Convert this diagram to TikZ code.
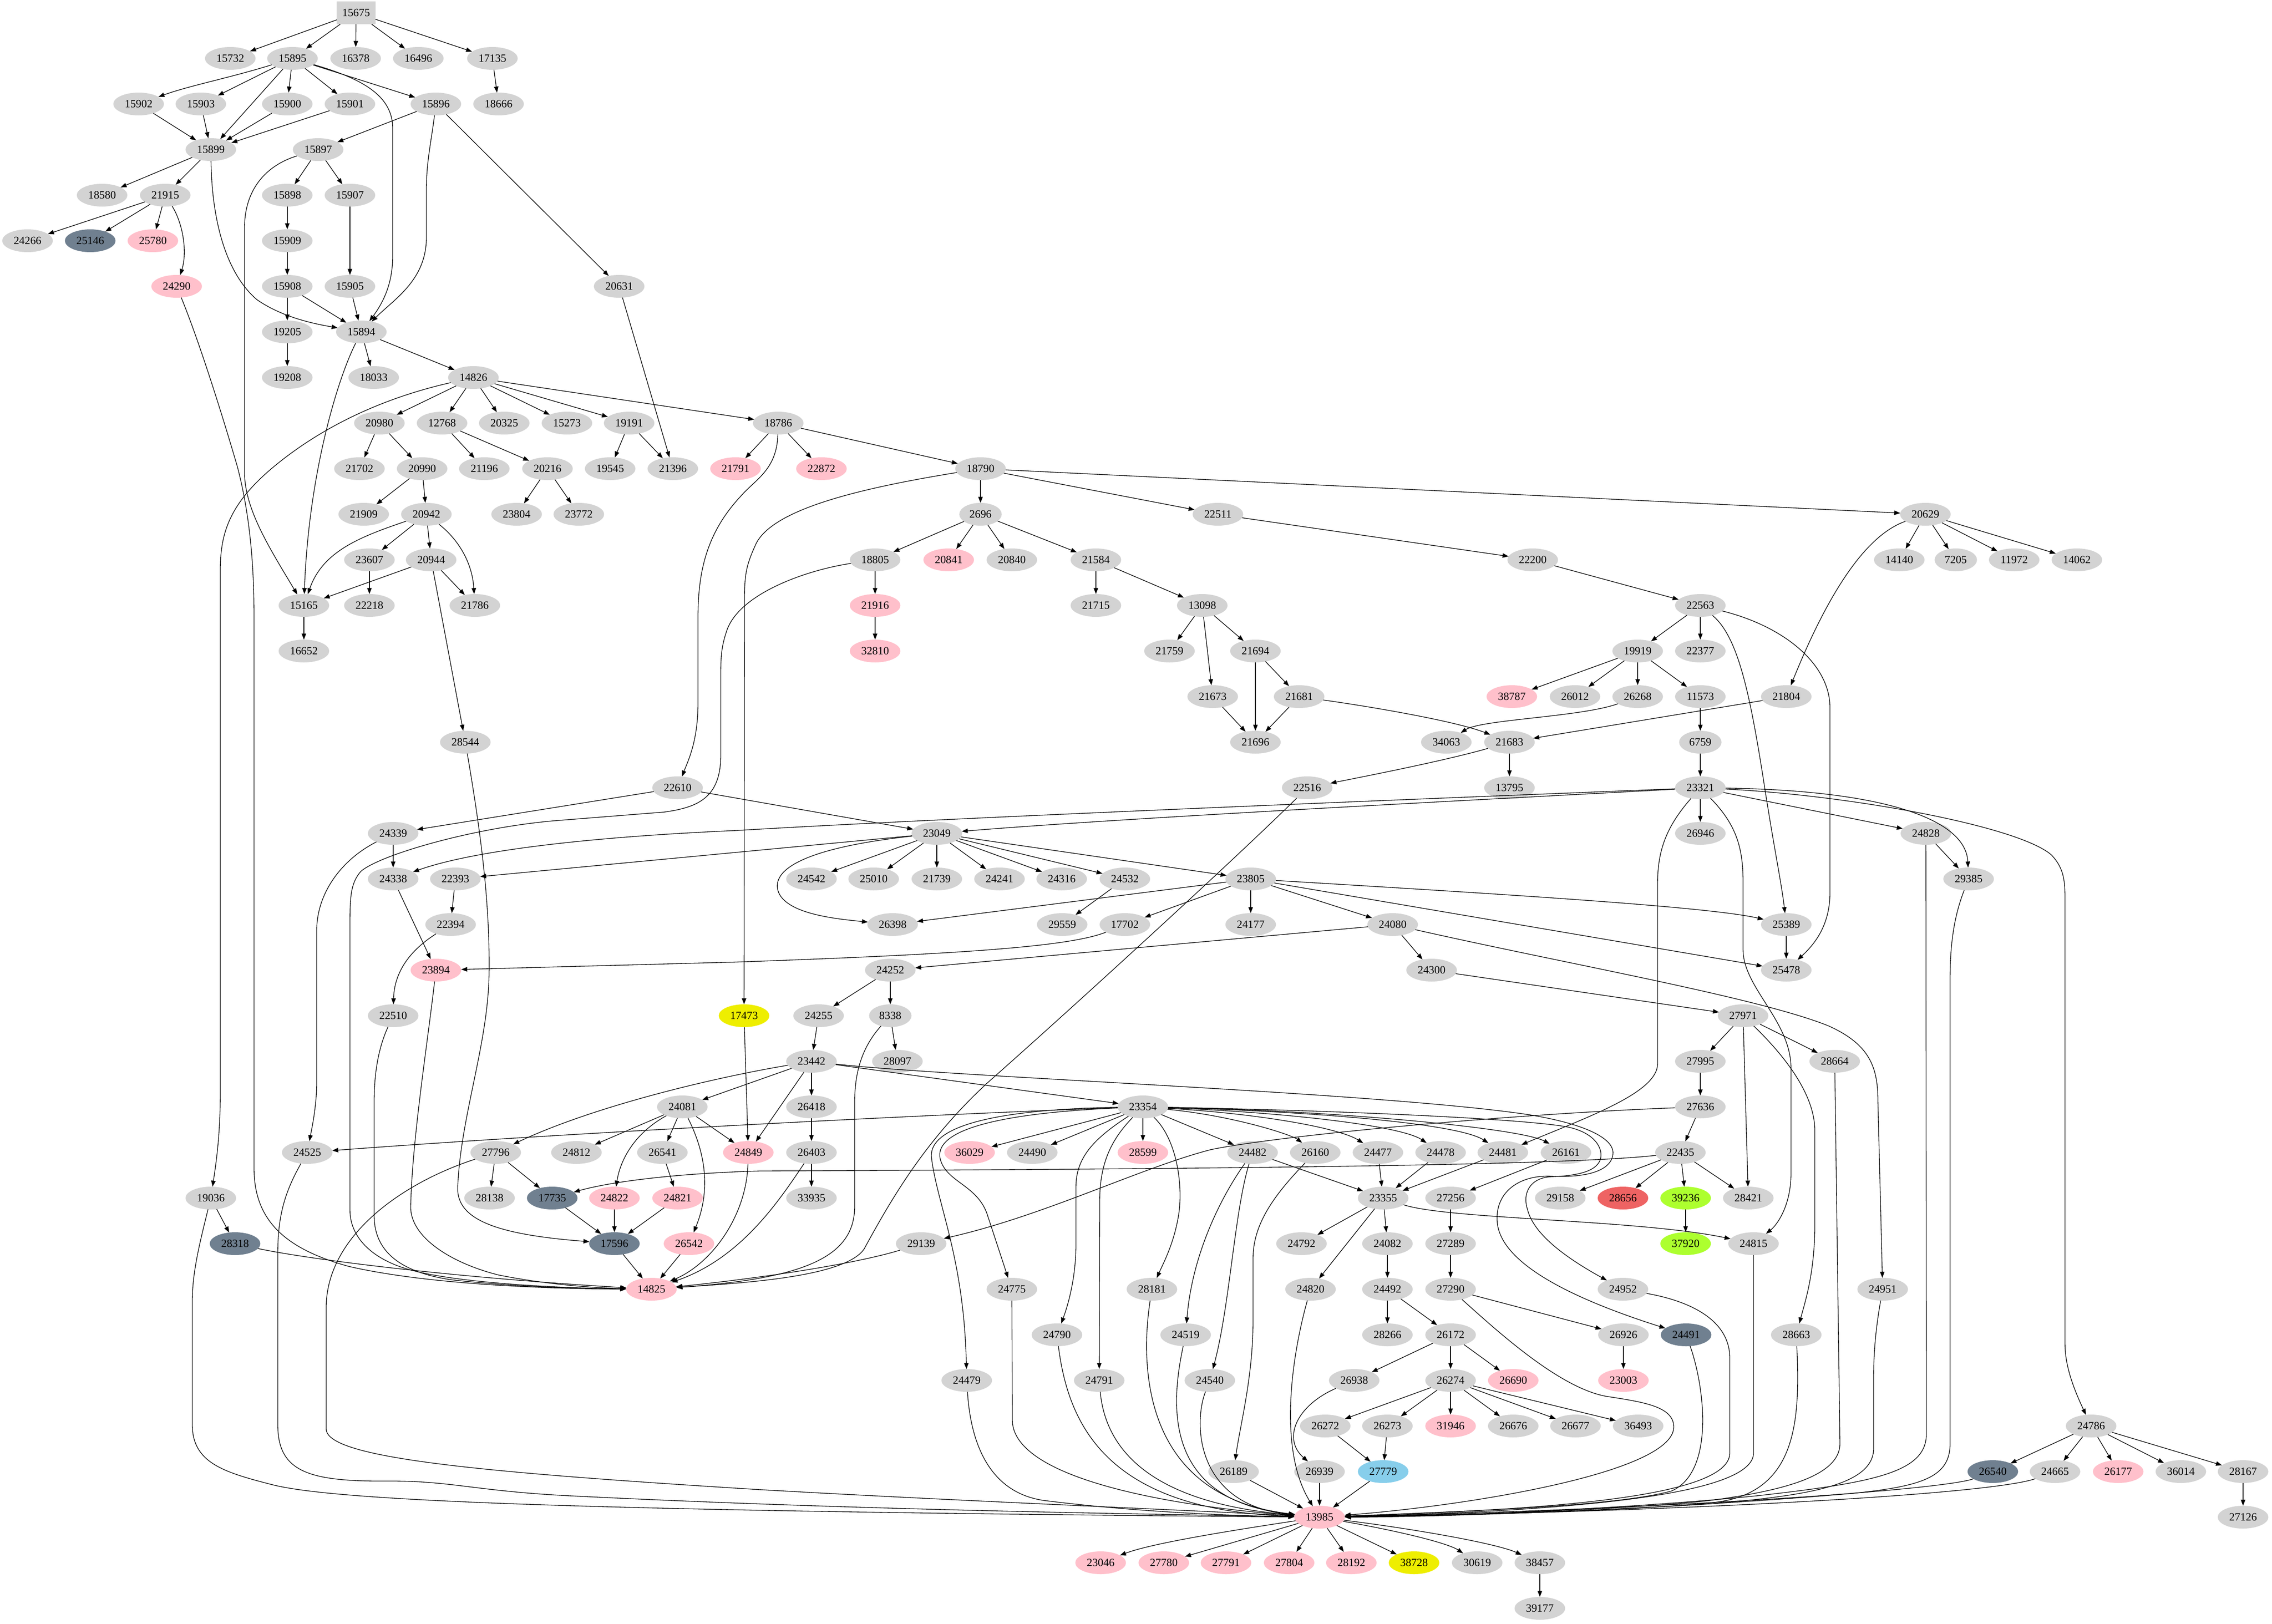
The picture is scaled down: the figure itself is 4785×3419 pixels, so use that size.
\documentclass[tikz,border=0pt]{standalone}
\usepackage{fontspec}
\setmainfont{Liberation Serif}
\usetikzlibrary{shapes.geometric,arrows.meta}
\definecolor{lgray}{HTML}{D3D3D3}
\definecolor{pinkc}{HTML}{FFC0CB}
\definecolor{slate}{HTML}{708090}
\definecolor{yelc}{HTML}{EEEE00}
\definecolor{grnyel}{HTML}{ADFF2F}
\definecolor{redc}{HTML}{EE6363}
\definecolor{skyb}{HTML}{87CEEB}
\tikzset{
 nd/.style={ellipse, fill=lgray, draw=none, minimum width=80pt, minimum height=36pt, inner sep=0pt, outer sep=0pt, font=\fontsize{17.5}{20}\selectfont},
 n4/.style={minimum width=67pt},
 bx/.style={rectangle, fill=lgray, minimum width=61pt, minimum height=36pt, inner sep=0pt, outer sep=0pt, font=\fontsize{17.5}{20}\selectfont},
 pk/.style={fill=pinkc}, sg/.style={fill=slate}, ye/.style={fill=yelc}, gy/.style={fill=grnyel}, rd/.style={fill=redc}, sb/.style={fill=skyb},
 ed/.style={draw=black, line width=1pt, -{Triangle[length=9.5pt,width=7pt]}},
}
\newcommand{\mynode}[4][]{\node[nd,#1] (n#2) at (#3,#4) {#2};}
\newcommand{\myedge}[2]{\draw[ed] (n#1) -- (n#2);}
\begin{document}
\begin{tikzpicture}[x=0.75pt,y=-0.75pt]
\useasboundingbox (0,0) rectangle (4785,3419);
% ---------- nodes ----------
\node[bx] (n15675) at (750,27) {15675};
% rank 1
\mynode{15732}{485}{123}\mynode{15895}{616}{123}\mynode{16378}{749}{123}\mynode{16496}{881}{123}\mynode{17135}{1037}{123}
% rank 2
\mynode{15902}{292}{219}\mynode{15903}{423}{219}\mynode{15900}{605}{219}\mynode{15901}{737}{219}\mynode{15896}{918}{219}\mynode{18666}{1050}{219}
% rank 3
\mynode{15899}{444}{315}\mynode{15897}{670}{315}
% rank 4
\mynode{18580}{215}{411}\mynode{21915}{348}{411}\mynode{15898}{605}{411}\mynode{15907}{737}{411}
% rank 5
\mynode{24266}{58}{507}\mynode[sg]{25146}{190}{507}\mynode[pk]{25780}{322}{507}\mynode{15909}{605}{507}
% rank 6
\mynode[pk]{24290}{372}{603}\mynode{15908}{605}{603}\mynode{15905}{737}{603}\mynode{20631}{1304}{603}
% rank 7
\mynode{19205}{605}{699}\mynode{15894}{761}{699}
% rank 8
\mynode{19208}{605}{795}\mynode{18033}{787}{795}\mynode{14826}{997}{795}
% rank 9
\mynode{20980}{799}{891}\mynode{12768}{931}{891}\mynode{20325}{1062}{891}\mynode{15273}{1194}{891}\mynode{19191}{1325}{891}\mynode{18786}{1639}{891}
% rank 10
\mynode{21702}{757}{987}\mynode{20990}{889}{987}\mynode{21196}{1020}{987}\mynode{20216}{1153}{987}\mynode{19545}{1285}{987}\mynode{21396}{1417}{987}\mynode[pk]{21791}{1549}{987}\mynode[pk]{22872}{1730}{987}\mynode{18790}{2065}{987}
% rank 11
\mynode{21909}{766}{1083}\mynode{20942}{898}{1083}\mynode{23804}{1088}{1083}\mynode{23772}{1219}{1083}\mynode[n4]{2696}{2065}{1083}\mynode{22511}{2565}{1083}\mynode{20629}{4055}{1083}
% rank 12
\mynode{23607}{778}{1179}\mynode{20944}{908}{1179}\mynode{18805}{1843}{1179}\mynode[pk]{20841}{1998}{1179}\mynode{20840}{2131}{1179}\mynode{21584}{2308}{1179}\mynode{22200}{3228}{1179}\mynode{14140}{4000}{1179}\mynode[n4]{7205}{4119}{1179}\mynode{11972}{4242}{1179}\mynode{14062}{4374}{1179}
% rank 13
\mynode{15165}{640}{1275}\mynode{22218}{778}{1275}\mynode{21786}{1000}{1275}\mynode[pk]{21916}{1843}{1275}\mynode{21715}{2308}{1275}\mynode{13098}{2532}{1275}\mynode{22563}{3581}{1275}
% rank 14
\mynode{16652}{640}{1371}\mynode[pk]{32810}{1843}{1371}\mynode{21759}{2463}{1371}\mynode{21694}{2644}{1371}\mynode{19919}{3449}{1371}\mynode{22377}{3581}{1371}
% rank 15
\mynode{21673}{2554}{1467}\mynode{21681}{2736}{1467}\mynode[pk]{38787}{3184}{1467}\mynode{26012}{3317}{1467}\mynode{26268}{3449}{1467}\mynode{11573}{3581}{1467}\mynode{21804}{3762}{1467}
% rank 16
\mynode{28544}{980}{1563}\mynode{21696}{2644}{1563}\mynode{34063}{3046}{1563}\mynode{21683}{3179}{1563}\mynode[n4]{6759}{3581}{1563}
% rank 17
\mynode{22610}{1427}{1659}\mynode{22516}{2753}{1659}\mynode{13795}{3179}{1659}\mynode{23321}{3581}{1659}
% rank 18
\mynode{24339}{828}{1755}\mynode{23049}{1973}{1755}\mynode{26946}{3581}{1755}\mynode{24828}{4056}{1755}
% rank 19
\mynode{24338}{828}{1851}\mynode{22393}{959}{1851}\mynode{24542}{1709}{1851}\mynode{25010}{1840}{1851}\mynode{21739}{1973}{1851}\mynode{24241}{2105}{1851}\mynode{24316}{2236}{1851}\mynode{24532}{2369}{1851}\mynode{23805}{2634}{1851}\mynode{29385}{4146}{1851}
% rank 20
\mynode{22394}{949}{1947}\mynode{26398}{1880}{1947}\mynode{29559}{2237}{1947}\mynode{17702}{2369}{1947}\mynode{24177}{2634}{1947}\mynode{24080}{2933}{1947}\mynode{25389}{3762}{1947}
% rank 21
\mynode[pk]{23894}{918}{2043}\mynode{24252}{1875}{2043}\mynode{24300}{3015}{2043}\mynode{25478}{3762}{2043}
% rank 22
\mynode{22510}{828}{2139}\mynode[ye]{17473}{1567}{2139}\mynode{24255}{1724}{2139}\mynode[n4]{8338}{1875}{2139}\mynode{27971}{3671}{2139}
% rank 23
\mynode{23442}{1709}{2235}\mynode{28097}{1890}{2235}\mynode{27995}{3581}{2235}\mynode{28664}{3864}{2235}
% rank 24
\mynode{24081}{1437}{2331}\mynode{26418}{1709}{2331}\mynode{23354}{2407}{2331}\mynode{27636}{3581}{2331}
% rank 25
\mynode{24525}{647}{2427}\mynode{27796}{1044}{2427}\mynode{24812}{1214}{2427}\mynode{26541}{1395}{2427}\mynode[pk]{24849}{1576}{2427}\mynode{26403}{1709}{2427}\mynode[pk]{36029}{2042}{2427}\mynode{24490}{2174}{2427}\mynode[pk]{28599}{2407}{2427}\mynode{24482}{2638}{2427}\mynode{26160}{2770}{2427}\mynode{24477}{2902}{2427}\mynode{24478}{3034}{2427}\mynode{24481}{3165}{2427}\mynode{26161}{3298}{2427}\mynode{22435}{3539}{2427}
% rank 26
\mynode{19036}{444}{2523}\mynode{28138}{1031}{2523}\mynode[sg]{17735}{1163}{2523}\mynode[pk]{24822}{1294}{2523}\mynode[pk]{24821}{1427}{2523}\mynode{33935}{1709}{2523}\mynode{23355}{2913}{2523}\mynode{27256}{3055}{2523}\mynode{29158}{3286}{2523}\mynode[rd]{28656}{3418}{2523}\mynode[gy]{39236}{3550}{2523}\mynode{28421}{3682}{2523}
% rank 27
\mynode[sg]{28318}{495}{2619}\mynode[sg]{17596}{1294}{2619}\mynode[pk]{26542}{1451}{2619}\mynode{29139}{1940}{2619}\mynode{24792}{2741}{2619}\mynode{24082}{2922}{2619}\mynode{27289}{3055}{2619}\mynode[gy]{37920}{3550}{2619}\mynode{24815}{3693}{2619}
% rank 28
\mynode[pk]{14825}{1372}{2715}\mynode{24775}{2131}{2715}\mynode{28181}{2426}{2715}\mynode{24820}{2760}{2715}\mynode{24492}{2922}{2715}\mynode{27290}{3055}{2715}\mynode{24952}{3418}{2715}\mynode{24951}{3965}{2715}
% rank 29
\mynode{24790}{2226}{2811}\mynode{24519}{2497}{2811}\mynode{28266}{2922}{2811}\mynode{26172}{3055}{2811}\mynode{26926}{3419}{2811}\mynode[sg]{24491}{3551}{2811}\mynode{28663}{3783}{2811}
% rank 30
\mynode{24479}{2036}{2907}\mynode{24791}{2315}{2907}\mynode{24540}{2548}{2907}\mynode{26938}{2852}{2907}\mynode{26274}{3055}{2907}\mynode[pk]{26690}{3187}{2907}\mynode[pk]{23003}{3419}{2907}
% rank 31
\mynode{26272}{2791}{3003}\mynode{26273}{2922}{3003}\mynode[pk]{31946}{3055}{3003}\mynode{26676}{3187}{3003}\mynode{26677}{3318}{3003}\mynode{36493}{3450}{3003}\mynode{24786}{4404}{3003}
% rank 32
\mynode{26189}{2598}{3099}\mynode{26939}{2779}{3099}\mynode[sb]{27779}{2913}{3099}\mynode[sg]{26540}{4197}{3099}\mynode{24665}{4328}{3099}\mynode[pk]{26177}{4461}{3099}\mynode{36014}{4593}{3099}\mynode{28167}{4724}{3099}
% rank 33
\mynode[pk]{13985}{2779}{3195}\mynode{27126}{4724}{3195}
% rank 34
\mynode[pk]{23046}{2318}{3291}\mynode[pk]{27780}{2451}{3291}\mynode[pk]{27791}{2582}{3291}\mynode[pk]{27804}{2715}{3291}\mynode[pk]{28192}{2846}{3291}\mynode[ye]{38728}{2978}{3291}\mynode{30619}{3111}{3291}\mynode{38457}{3243}{3291}
% rank 35
\mynode{39177}{3243}{3387}
% ---------- straight edges ----------
\myedge{15675}{15732}\myedge{15675}{15895}\myedge{15675}{16378}\myedge{15675}{16496}\myedge{15675}{17135}\myedge{17135}{18666}
\myedge{15895}{15903}\myedge{15895}{15899}\myedge{15895}{15900}\myedge{15895}{15901}\myedge{15895}{15896}
\myedge{15902}{15899}\myedge{15903}{15899}\myedge{15900}{15899}\myedge{15901}{15899}
\myedge{15896}{15897}\myedge{15896}{20631}
\myedge{15899}{18580}\myedge{15899}{21915}
\myedge{15897}{15898}\myedge{15897}{15907}
\myedge{21915}{24266}\myedge{21915}{25146}\myedge{21915}{25780}
\myedge{15898}{15909}\myedge{15909}{15908}\myedge{15908}{19205}\myedge{19205}{19208}\myedge{15908}{15894}\myedge{15907}{15905}\myedge{15905}{15894}
\myedge{15894}{18033}\myedge{15894}{14826}
\myedge{20631}{21396}
\myedge{14826}{20980}\myedge{14826}{12768}\myedge{14826}{20325}\myedge{14826}{15273}\myedge{14826}{19191}\myedge{14826}{18786}
\myedge{20980}{21702}\myedge{20980}{20990}\myedge{20990}{21909}\myedge{20990}{20942}\myedge{12768}{21196}\myedge{12768}{20216}\myedge{20216}{23804}\myedge{20216}{23772}\myedge{19191}{19545}\myedge{19191}{21396}
\myedge{18786}{21791}\myedge{18786}{22872}\myedge{18786}{18790}
\myedge{20942}{23607}\myedge{20942}{20944}
\myedge{20944}{15165}\myedge{20944}{21786}\myedge{20944}{28544}
\myedge{23607}{22218}\myedge{15165}{16652}
\myedge{18790}{2696}\myedge{18790}{22511}\myedge{18790}{20629}
\myedge{2696}{18805}\myedge{2696}{20841}\myedge{2696}{20840}\myedge{2696}{21584}
\myedge{18805}{21916}\myedge{21916}{32810}
\myedge{21584}{21715}\myedge{21584}{13098}\myedge{13098}{21759}\myedge{13098}{21673}\myedge{13098}{21694}\myedge{21694}{21696}\myedge{21694}{21681}\myedge{21673}{21696}\myedge{21681}{21696}
\myedge{22511}{22200}\myedge{22200}{22563}
\myedge{20629}{14140}\myedge{20629}{7205}\myedge{20629}{11972}\myedge{20629}{14062}
\myedge{22563}{19919}\myedge{22563}{22377}
\myedge{19919}{38787}\myedge{19919}{26012}\myedge{19919}{26268}\myedge{19919}{11573}
\myedge{21804}{21683}\myedge{11573}{6759}\myedge{6759}{23321}\myedge{21683}{13795}
\myedge{22610}{24339}\myedge{22610}{23049}\myedge{24339}{24338}
\myedge{23049}{22393}\myedge{23049}{24542}\myedge{23049}{25010}\myedge{23049}{21739}\myedge{23049}{24241}\myedge{23049}{24316}\myedge{23049}{24532}\myedge{23049}{23805}
\myedge{24338}{23894}\myedge{22393}{22394}\myedge{24532}{29559}
\myedge{23805}{26398}\myedge{23805}{17702}\myedge{23805}{24177}\myedge{23805}{24080}\myedge{23805}{25478}
\myedge{24080}{24252}\myedge{24080}{24300}\myedge{24300}{27971}
\myedge{24252}{24255}\myedge{24252}{8338}\myedge{24255}{23442}\myedge{8338}{28097}
\myedge{17473}{24849}
\myedge{23321}{26946}\myedge{23321}{24828}\myedge{24828}{29385}
\myedge{25389}{25478}
\myedge{27971}{27995}\myedge{27971}{28664}\myedge{27971}{28421}
\myedge{27995}{27636}\myedge{27636}{22435}
\myedge{23442}{24081}\myedge{23442}{26418}\myedge{23442}{23354}\myedge{23442}{24849}
\myedge{24081}{24812}\myedge{24081}{26541}\myedge{24081}{24849}
\myedge{26541}{24821}\myedge{26418}{26403}\myedge{26403}{33935}
\myedge{27796}{28138}\myedge{27796}{17735}
\myedge{17735}{17596}\myedge{24822}{17596}\myedge{24821}{17596}
\myedge{19036}{28318}
\myedge{17596}{14825}\myedge{26542}{14825}
\myedge{23354}{36029}\myedge{23354}{24490}\myedge{23354}{28599}\myedge{23354}{24482}
\myedge{24482}{23355}\myedge{24477}{23355}\myedge{24478}{23355}\myedge{24481}{23355}
\myedge{26161}{27256}\myedge{27256}{27289}\myedge{27289}{27290}
\myedge{23355}{24792}\myedge{23355}{24082}\myedge{23355}{24820}
\myedge{24082}{24492}\myedge{24492}{28266}\myedge{24492}{26172}
\myedge{27290}{26926}\myedge{26926}{23003}
\myedge{26172}{26938}\myedge{26172}{26274}\myedge{26172}{26690}
\myedge{26274}{26272}\myedge{26274}{26273}\myedge{26274}{31946}\myedge{26274}{26676}\myedge{26274}{26677}\myedge{26274}{36493}
\myedge{26272}{27779}\myedge{26273}{27779}\myedge{27779}{13985}\myedge{26939}{13985}\myedge{26189}{13985}
\myedge{22435}{29158}\myedge{22435}{28656}\myedge{22435}{39236}\myedge{22435}{28421}\myedge{39236}{37920}
\myedge{24786}{26540}\myedge{24786}{24665}\myedge{24786}{26177}\myedge{24786}{36014}\myedge{24786}{28167}\myedge{28167}{27126}
\myedge{13985}{27780}\myedge{13985}{27791}\myedge{13985}{27804}\myedge{13985}{28192}\myedge{13985}{38728}
\myedge{38457}{39177}
% ---------- curved edges ----------
\draw[ed] (n15895) .. controls (480,165) and (400,180) .. (n15902);
\draw[ed] (n15895) .. controls (760,165) and (827,200) .. (827,270) -- (827,540) .. controls (827,600) and (805,640) .. (n15894);
\draw[ed] (n15896) .. controls (908,300) and (898,340) .. (898,400) -- (898,500) .. controls (898,590) and (830,630) .. (n15894);
\draw[ed] (n15899) .. controls (446,450) and (470,570) .. (541,631) .. controls (590,665) and (650,680) .. (n15894);
\draw[ed] (n15897) .. controls (570,345) and (515,390) .. (515,480) -- (515,1000) .. controls (518,1075) and (565,1150) .. (n15165);
\draw[ed] (n21915) .. controls (385,470) and (395,530) .. (n24290);
\draw[ed] (n24290) .. controls (420,720) and (470,880) .. (500,983) .. controls (528,1090) and (535,1200) .. (535,1300) -- (535,2460) .. controls (535,2570) and (600,2630) .. (735,2667) .. controls (900,2705) and (1150,2714) .. (n14825);
\draw[ed] (n15894) .. controls (710,800) and (650,1000) .. (n15165);
\draw[ed] (n14826) .. controls (820,835) and (690,890) .. (580,980) .. controls (485,1058) and (464,1120) .. (464,1200) -- (464,2300) .. controls (464,2390) and (455,2450) .. (n19036);
\draw[ed] (n18786) .. controls (1636,990) and (1590,1010) .. (1560,1045) .. controls (1490,1120) and (1470,1200) .. (1470,1300) -- (1470,1480) .. controls (1470,1560) and (1450,1600) .. (n22610);
\draw[ed] (n18805) .. controls (1700,1200) and (1555,1250) .. (1530,1330) .. controls (1520,1360) and (1518,1380) .. (1518,1420) -- (1518,1590) .. controls (1518,1680) and (1470,1700) .. (1400,1710) -- (1173,1728) .. controls (1000,1742) and (800,1800) .. (760,1835) .. controls (738,1860) and (737,1890) .. (737,1950) -- (737,2548) .. controls (737,2610) and (790,2655) .. (867,2675) .. controls (960,2700) and (1150,2712) .. (n14825);
\draw[ed] (n18790) .. controls (1800,1030) and (1620,1075) .. (1590,1150) .. controls (1572,1190) and (1568,1210) .. (1568,1260) -- (n17473);
\draw[ed] (n20942) .. controls (760,1130) and (680,1160) .. (n15165);
\draw[ed] (n20942) .. controls (970,1140) and (995,1190) .. (n21786);
\draw[ed] (n20629) .. controls (3950,1120) and (3870,1200) .. (n21804);
\draw[ed] (n22563) .. controls (3660,1340) and (3685,1460) .. (3713,1636) .. controls (3735,1780) and (3752,1860) .. (n25389);
\draw[ed] (n22563) .. controls (3760,1320) and (3854,1400) .. (3854,1490) -- (3854,1880) .. controls (3854,1950) and (3820,1990) .. (n25478);
\draw[ed] (n26268) .. controls (3330,1510) and (3120,1515) .. (n34063);
\draw[ed] (n21681) .. controls (2900,1490) and (3070,1520) .. (n21683);
\draw[ed] (n21683) .. controls (3050,1600) and (2900,1630) .. (n22516);
\draw[ed] (n22516) .. controls (2600,1810) and (2250,2130) .. (2080,2280) .. controls (1950,2400) and (1880,2520) .. (1820,2630) .. controls (1780,2690) and (1560,2702) .. (n14825);
\draw[ed] (n8338) .. controls (1820,2200) and (1800,2250) .. (1800,2320) -- (1800,2540) .. controls (1800,2645) and (1700,2692) .. (n14825);
\draw[ed] (n26403) .. controls (1640,2530) and (1560,2650) .. (n14825);
\draw[ed] (n24849) .. controls (1572,2560) and (1500,2660) .. (n14825);
\draw[ed] (n29139) .. controls (1800,2662) and (1600,2692) .. (n14825);
\draw[ed] (n28318) .. controls (650,2652) and (950,2690) .. (n14825);
\draw[ed] (n22394) .. controls (850,2010) and (830,2060) .. (n22510);
\draw[ed] (n22510) .. controls (800,2200) and (788,2250) .. (788,2320) -- (788,2560) .. controls (788,2640) and (850,2680) .. (950,2695) .. controls (1100,2712) and (1250,2714) .. (n14825);
\draw[ed] (n23894) .. controls (900,2200) and (868,2400) .. (865,2540) .. controls (863,2605) and (950,2660) .. (1050,2685) .. controls (1150,2705) and (1250,2712) .. (n14825);
\draw[ed] (n28544) .. controls (1012,1750) and (1032,1900) .. (1030,2050) .. controls (1028,2200) and (970,2350) .. (964,2500) .. controls (961,2570) and (1050,2600) .. (n17596);
\draw[ed] (n24339) .. controls (720,1810) and (667,1880) .. (667,1960) -- (667,2280) .. controls (667,2330) and (656,2380) .. (n24525);
\draw[ed] (n23321) .. controls (3200,1680) and (2400,1720) .. (n23049);
\draw[ed] (n23321) .. controls (3000,1682) and (2000,1722) .. (1550,1749) .. controls (1250,1762) and (1000,1790) .. (n24338);
\draw[ed] (n23049) .. controls (1700,1785) and (1620,1830) .. (1640,1880) .. controls (1660,1925) and (1760,1935) .. (n26398);
\draw[ed] (n23805) .. controls (3200,1885) and (3600,1910) .. (n25389);
\draw[ed] (n24080) .. controls (3300,2030) and (3700,2100) .. (3850,2160) .. controls (3940,2200) and (3955,2250) .. (3955,2320) -- (n24951);
\draw[ed] (n17702) .. controls (2250,1995) and (2000,2010) .. (1550,2026) -- (n23894);
\draw[ed] (n23442) .. controls (1500,2270) and (1250,2330) .. (n27796);
\draw[ed] (n23442) .. controls (2000,2268) and (2900,2300) .. (3217,2347) .. controls (3330,2365) and (3400,2395) .. (3397,2430) .. controls (3393,2470) and (3330,2480) .. (3267,2477) .. controls (3200,2474) and (3150,2510) .. (3153,2570) .. controls (3156,2650) and (3280,2725) .. (n24491);
\draw[ed] (n23354) .. controls (2800,2338) and (3200,2355) .. (3300,2373) .. controls (3360,2385) and (3378,2420) .. (3370,2443) .. controls (3360,2468) and (3320,2476) .. (3267,2478) .. controls (3225,2480) and (3205,2510) .. (3217,2547) .. controls (3230,2600) and (3300,2650) .. (n24952);
\draw[ed] (n27636) .. controls (3200,2345) and (2700,2390) .. (2550,2421) .. controls (2400,2460) and (2200,2560) .. (n29139);
\draw[ed] (n22435) .. controls (3300,2455) and (2500,2462) .. (1600,2466) .. controls (1450,2470) and (1300,2485) .. (n17735);
\draw[ed] (n23354) .. controls (2000,2345) and (1200,2385) .. (n24525);
\draw[ed] (n23354) .. controls (2150,2335) and (1950,2360) .. (1962,2440) .. controls (1975,2540) and (2030,2650) .. (n24479);
\draw[ed] (n23354) .. controls (2150,2342) and (1965,2370) .. (1980,2440) .. controls (1992,2490) and (2060,2495) .. (2080,2560) -- (n24775);
\draw[ed] (n23354) .. controls (2300,2400) and (2266,2440) .. (2266,2500) -- (2266,2620) .. controls (2266,2700) and (2245,2760) .. (n24790);
\draw[ed] (n23354) .. controls (2340,2400) and (2316,2450) .. (2316,2530) -- (n24791);
\draw[ed] (n23354) .. controls (2480,2400) and (2492,2500) .. (2482,2560) .. controls (2472,2620) and (2450,2660) .. (n28181);
\draw[ed] (n23354) .. controls (2600,2350) and (2720,2390) .. (n26160);
\draw[ed] (n23354) .. controls (2650,2345) and (2820,2375) .. (n24477);
\draw[ed] (n23354) .. controls (2700,2342) and (2950,2370) .. (n24478);
\draw[ed] (n23354) .. controls (2750,2340) and (3070,2365) .. (n24481);
\draw[ed] (n23354) .. controls (2800,2338) and (3200,2375) .. (n26161);
\draw[ed] (n24482) .. controls (2565,2530) and (2510,2650) .. (n24519);
\draw[ed] (n24482) .. controls (2600,2550) and (2590,2750) .. (n24540);
\draw[ed] (n26160) .. controls (2680,2520) and (2639,2580) .. (2639,2650) -- (2639,2780) .. controls (2639,2900) and (2612,3000) .. (n26189);
\draw[ed] (n23355) .. controls (3050,2568) and (3450,2568) .. (n24815);
\draw[ed] (n27290) .. controls (3150,2800) and (3280,2920) .. (3380,2940) .. controls (3455,2952) and (3525,2960) .. (3525,3005) .. controls (3525,3100) and (3100,3170) .. (n13985);
\draw[ed] (n26938) .. controls (2730,2960) and (2700,3030) .. (n26939);
\draw[ed] (n24820) .. controls (2722,2850) and (2690,3050) .. (n13985);
\draw[ed] (n24540) .. controls (2512,3000) and (2520,3170) .. (n13985);
\draw[ed] (n24519) .. controls (2465,2960) and (2450,3160) .. (n13985);
\draw[ed] (n28181) .. controls (2405,2850) and (2390,3150) .. (n13985);
\draw[ed] (n24791) .. controls (2328,3050) and (2420,3165) .. (n13985);
\draw[ed] (n24790) .. controls (2250,3000) and (2330,3180) .. (n13985);
\draw[ed] (n24775) -- (2132,2990) .. controls (2132,3120) and (2500,3175) .. (n13985);
\draw[ed] (n24479) .. controls (2045,3050) and (2090,3145) .. (2200,3160) .. controls (2400,3185) and (2600,3192) .. (n13985);
\draw[ed] (n27796) .. controls (850,2490) and (690,2600) .. (687,2750) -- (687,3010) .. controls (690,3070) and (1000,3100) .. (1600,3137) .. controls (2000,3160) and (2500,3180) .. (n13985);
\draw[ed] (n24525) .. controls (600,2510) and (585,2560) .. (585,2640) -- (585,3000) .. controls (585,3100) and (650,3120) .. (816,3119) .. controls (950,3118) and (1000,3140) .. (1200,3150) .. controls (1800,3180) and (2400,3188) .. (n13985);
\draw[ed] (n19036) .. controls (420,2620) and (405,2680) .. (405,2740) -- (405,3000) .. controls (405,3080) and (470,3100) .. (571,3126) .. controls (700,3160) and (1200,3182) .. (n13985);
\draw[ed] (n24952) .. controls (3560,2740) and (3643,2780) .. (3643,2860) -- (3643,3060) .. controls (3643,3160) and (3200,3180) .. (n13985);
\draw[ed] (n24491) .. controls (3590,2920) and (3612,3100) .. (3520,3140) .. controls (3400,3172) and (3100,3182) .. (n13985);
\draw[ed] (n24815) -- (3693,3060) .. controls (3693,3150) and (3300,3182) .. (n13985);
\draw[ed] (n28663) .. controls (3792,3000) and (3782,3150) .. (3600,3165) .. controls (3400,3185) and (3000,3190) .. (n13985);
\draw[ed] (n28664) -- (3875,3040) .. controls (3875,3110) and (3750,3140) .. (3600,3160) .. controls (3400,3182) and (3000,3192) .. (n13985);
\draw[ed] (n24951) .. controls (3950,2800) and (3946,2850) .. (3946,2900) -- (3946,3050) .. controls (3946,3130) and (3800,3150) .. (3600,3167) .. controls (3300,3186) and (3000,3193) .. (n13985);
\draw[ed] (n24828) -- (4057,3020) .. controls (4057,3100) and (3950,3122) .. (3700,3150) .. controls (3400,3180) and (3000,3194) .. (n13985);
\draw[ed] (n29385) .. controls (4115,1930) and (4107,1990) .. (4107,2060) -- (4107,3040) .. controls (4107,3110) and (4050,3130) .. (3900,3145) .. controls (3500,3180) and (3000,3195) .. (n13985);
\draw[ed] (n26540) .. controls (4100,3135) and (3600,3175) .. (n13985);
\draw[ed] (n24665) .. controls (4200,3145) and (3600,3182) .. (n13985);
\draw[ed] (n23321) .. controls (3900,1675) and (4250,1740) .. (4320,1800) .. controls (4349,1830) and (4349,1860) .. (4349,1900) -- (4349,2830) .. controls (4349,2880) and (4370,2930) .. (n24786);
\draw[ed] (n23321) .. controls (3950,1664) and (4140,1720) .. (n29385);
\draw[ed] (n23321) .. controls (3510,1740) and (3491,1790) .. (3491,1860) -- (3491,2240) .. controls (3491,2300) and (3350,2350) .. (n24481);
\draw[ed] (n23321) .. controls (3660,1740) and (3671,1790) .. (3671,1860) -- (3671,2000) .. controls (3671,2080) and (3772,2150) .. (3772,2250) -- (3772,2470) .. controls (3772,2540) and (3742,2580) .. (n24815);
\draw[ed] (n27971) .. controls (3750,2215) and (3822,2300) .. (3822,2380) -- (3822,2580) .. controls (3822,2680) and (3802,2740) .. (n28663);
\draw[ed] (n24081) .. controls (1330,2390) and (1305,2450) .. (n24822);
\draw[ed] (n24081) .. controls (1482,2420) and (1500,2500) .. (n26542);
\draw[ed] (n13985) .. controls (2560,3228) and (2420,3252) .. (n23046);
\draw[ed] (n13985) .. controls (2950,3225) and (3050,3250) .. (n30619);
\draw[ed] (n13985) .. controls (2980,3220) and (3150,3250) .. (n38457);
\end{tikzpicture}
\end{document}
